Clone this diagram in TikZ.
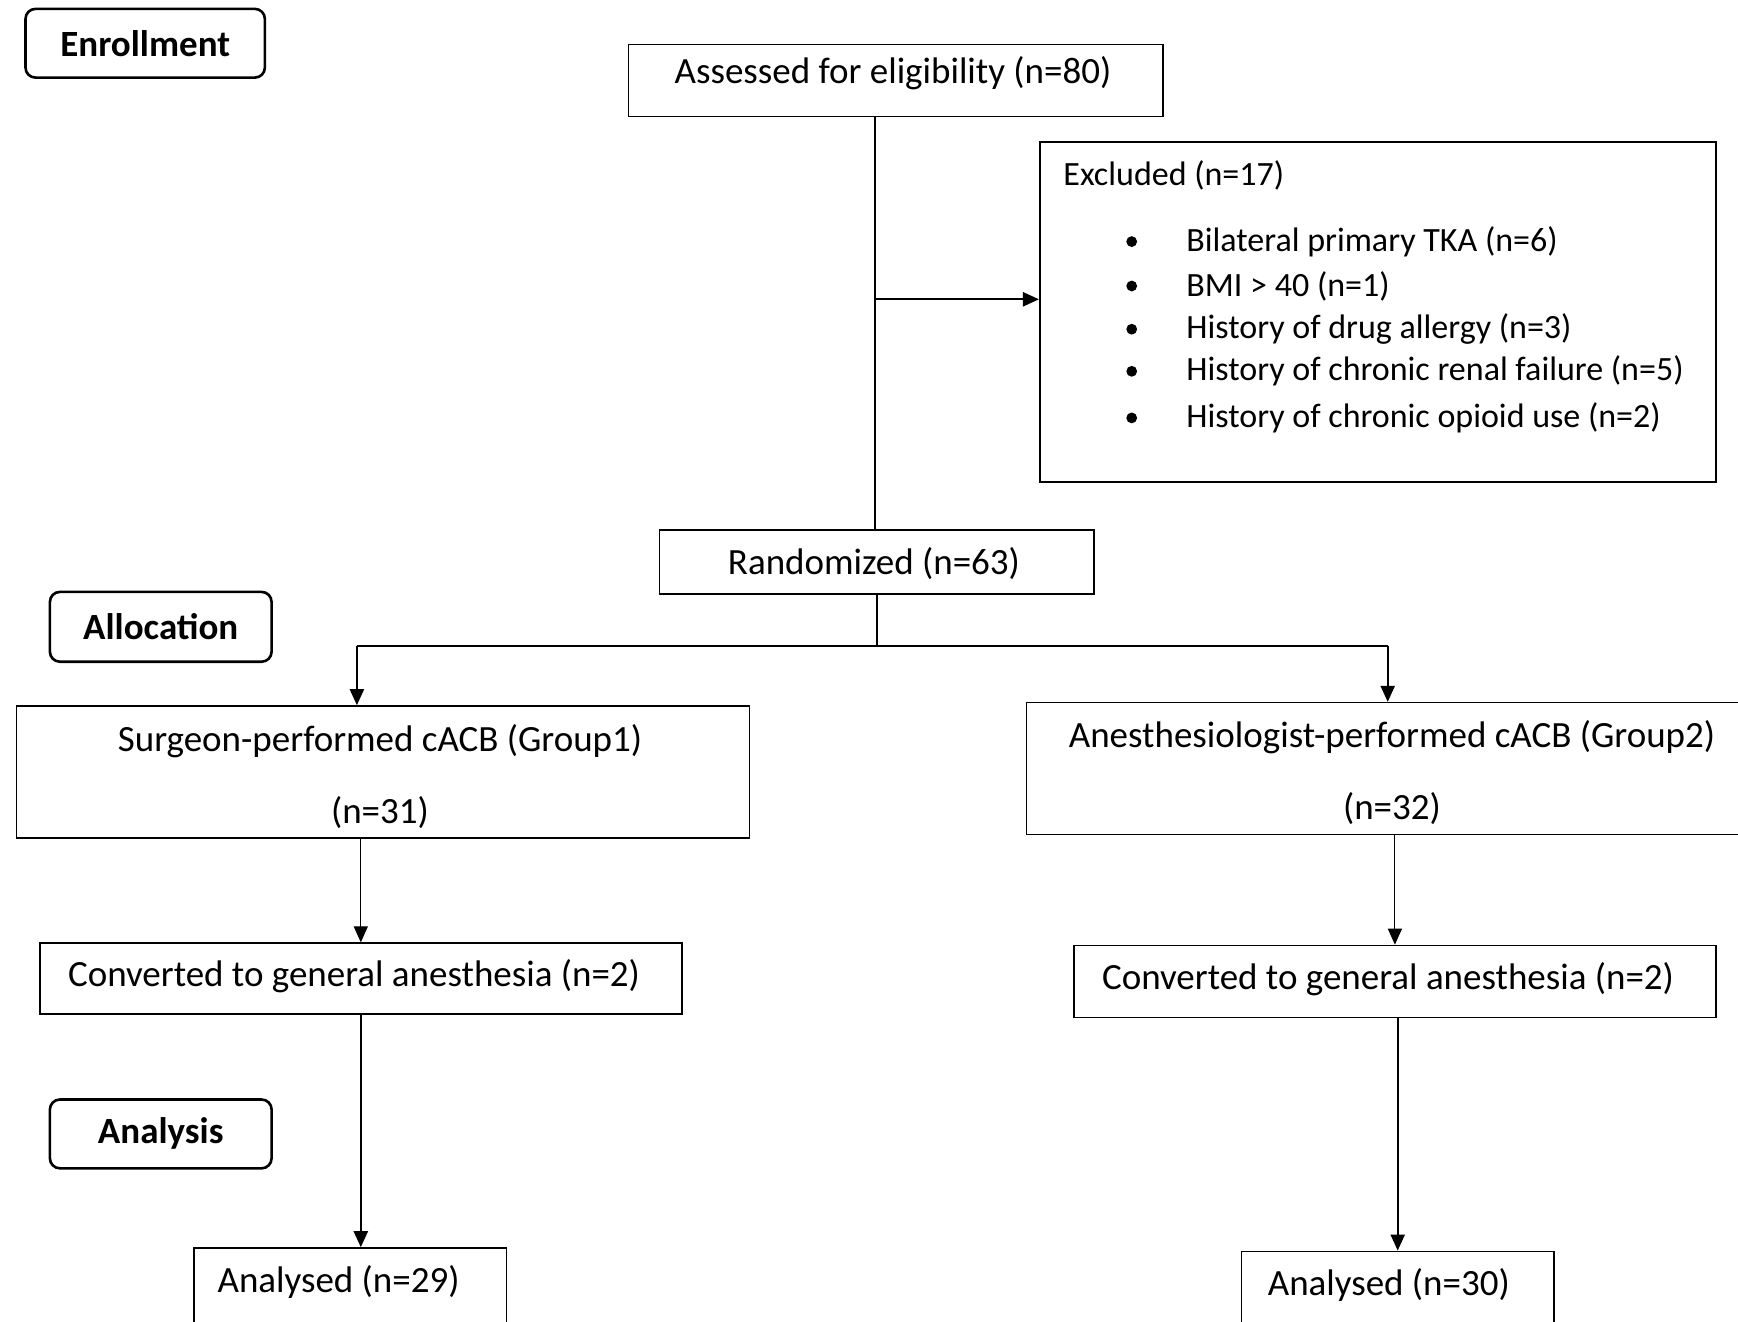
\documentclass[tikz,border=0pt]{standalone}
\usepackage{fontspec}
\setmainfont{Carlito}
\usetikzlibrary{arrows.meta}
\newcommand\mainsz{\fontsize{18.5}{22}\selectfont}
\newcommand\smallsz{\fontsize{17}{20}\selectfont}
\tikzset{
  box/.style={draw, line width=0.8pt, inner sep=0pt, font=\mainsz},
  phase/.style={draw, line width=1.3pt, rounded corners=5pt, inner sep=0pt, font=\bfseries\mainsz},
  arr/.style={-{Triangle[length=8pt,width=7pt]}, line width=1.1pt},
  thinarr/.style={-{Triangle[length=8pt,width=7pt]}, line width=0.5pt},
  lbl/.style={inner sep=0pt, font=\mainsz},
  grp/.style={inner sep=0pt, align=center, font=\fontsize{18.5}{36}\selectfont},
  item/.style={inner sep=0pt, font=\smallsz, anchor=west},
  bul/.style={circle, fill, inner sep=0pt, minimum size=5.4pt},
}
\begin{document}
\begin{tikzpicture}[x=0.5pt, y=-0.5pt]
\useasboundingbox (0,0) rectangle (1738,1321);
% phase labels
\node[phase, minimum width=119.7pt, minimum height=34.35pt] (enr) at (145.2,43.25) {Enrollment};
\node[phase, minimum width=110.85pt, minimum height=34.9pt] (alloc) at (160.75,626.8) {Allocation};
\node[phase, minimum width=110.85pt, minimum height=34.4pt] (anal) at (160.75,1133.9) {Analysis};
% boxes
\node[box, minimum width=267.1pt, minimum height=36pt] (assess) at (895.6,80.35) {};
\node[lbl] (assesst) at (893,73) {Assessed for eligibility (n=80)};
\node[box, minimum width=338pt, minimum height=170.15pt] (excl) at (1377.75,312.05) {};
\node[item] (exh) at (1063,175) {Excluded (n=17)};
\node[bul] (b1) at (1131.7,241.6) {};
\node[bul] (b2) at (1131.7,286) {};
\node[bul] (b3) at (1131.7,329.2) {};
\node[bul] (b4) at (1131.7,371.3) {};
\node[bul] (b5) at (1131.7,417.9) {};
\node[item] (i1) at (1186,241.6) {Bilateral primary TKA (n=6)};
\node[item] (i2) at (1186,286) {BMI > 40 (n=1)};
\node[item] (i3) at (1186,329.2) {History of drug allergy (n=3)};
\node[item] (i4) at (1186,371.3) {History of chronic renal failure (n=5)};
\node[item] (i5) at (1186,417.9) {History of chronic opioid use (n=2)};
\node[box, minimum width=217.25pt, minimum height=32.15pt] (rand) at (876.75,561.95) {};
\node[lbl] (randt) at (874,564) {Randomized (n=63)};
\node[box, minimum width=366.35pt, minimum height=66pt] (g1) at (383,772) {};
\node[grp] (g1t) at (380,776.5) {Surgeon-performed cACB (Group1)\\(n=31)};
\node[box, minimum width=365.6pt, minimum height=66pt] (g2) at (1392,768.65) {};
\node[grp] (g2t) at (1392,773) {Anesthesiologist-performed cACB (Group2)\\(n=32)};
\node[box, minimum width=320.9pt, minimum height=35.5pt] (c1) at (360.8,978.7) {};
\node[lbl] (c1t) at (354,976) {Converted to general anesthesia (n=2)};
\node[box, minimum width=320.9pt, minimum height=36pt] (c2) at (1394.9,981.5) {};
\node[lbl] (c2t) at (1388,979.5) {Converted to general anesthesia (n=2)};
\node[box, minimum width=156.25pt, minimum height=66pt] (a1) at (350.25,1314) {};
\node[lbl] (a1t) at (338.6,1282) {Analysed (n=29)};
\node[box, minimum width=156.3pt, minimum height=66pt] (a2) at (1397.7,1317.4) {};
\node[lbl] (a2t) at (1388.8,1285) {Analysed (n=30)};
% connectors
\coordinate (br) at (875,299.3);
\coordinate (split) at (876.75,646.2);
\coordinate (L) at (356.9,646.2);
\coordinate (R) at (1387.7,646.2);
\draw[line width=1.1pt] (assess.south -| br) -- (rand.north -| br);
\draw[arr] (br) -- (br -| excl.west);
\draw[line width=1.1pt] (rand.south) -- (split);
\draw[line width=1.1pt] (L) -- (R);
\draw[arr] (L) -- (L |- g1.north);
\draw[arr] (R) -- (R |- g2.north);
\draw[thinarr] (g1.south -| c1.north) -- (c1.north);
\draw[thinarr] (g2.south -| c2.north) -- (c2.north);
\draw[arr] (c1.south) -- (c1.south |- a1.north);
\draw[arr] (c2.south -| a2.north) -- (a2.north);
\end{tikzpicture}
\end{document}
